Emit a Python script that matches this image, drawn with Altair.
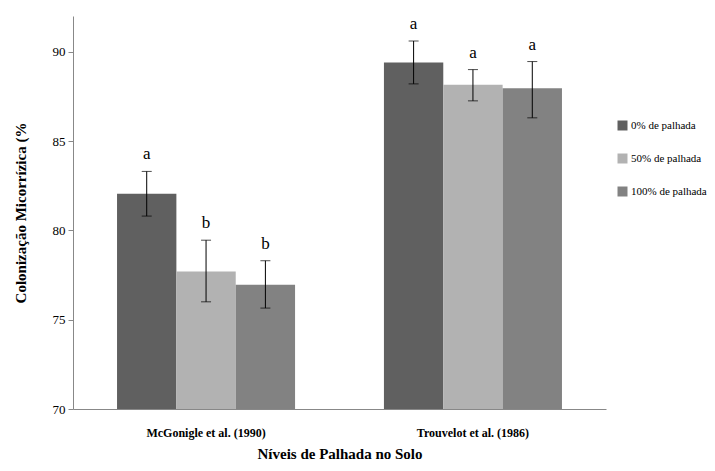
import altair as alt
import pandas as pd

studies = ["McGonigle et al. (1990)", "Trouvelot et al. (1986)"]
levels = ["0% de palhada", "50% de palhada", "100% de palhada"]
colors = ["#606060", "#b2b2b2", "#828282"]

means_mcg = [82.05, 77.7, 76.95]
hi_mcg = [83.3, 79.45, 78.3]
lo_mcg = [80.8, 76.0, 75.65]
letters_mcg = ["a", "b", "b"]

means_tro = [89.4, 88.15, 87.95]
hi_tro = [90.6, 89.0, 89.45]
lo_tro = [88.2, 87.25, 86.3]
letters_tro = ["a", "a", "a"]

rows = []
for s, m, h, l, t in [(studies[0], means_mcg, hi_mcg, lo_mcg, letters_mcg),
                      (studies[1], means_tro, hi_tro, lo_tro, letters_tro)]:
    for i, lev in enumerate(levels):
        rows.append({"study": s, "level": lev, "mean": m[i], "hi": h[i], "lo": l[i], "letter": t[i]})
df = pd.DataFrame(rows)

FONT = "Liberation Serif"

x = alt.X("study:N", sort=studies,
          scale=alt.Scale(paddingInner=0.333, paddingOuter=0.165),
          axis=alt.Axis(title="Níveis de Palhada no Solo", labelAngle=0, ticks=False,
                        labelFont=FONT, labelFontWeight="bold", labelFontSize=12, labelColor="black",
                        labelPadding=18, titleFont=FONT, titleFontSize=15, titleFontWeight="bold",
                        titleColor="black", titlePadding=8, domainColor="#888888"))
xo = alt.XOffset("level:N", sort=levels, scale=alt.Scale(paddingInner=0, paddingOuter=0))
yscale = alt.Scale(domain=[70, 92], nice=False)

base = alt.Chart(df)

bars = base.mark_bar().encode(
    x=x, xOffset=xo,
    y=alt.Y("mean:Q", scale=yscale,
            axis=alt.Axis(title="Colonização Micorrízica (%", values=[70, 75, 80, 85, 90], grid=False,
                          labelFont=FONT, labelFontSize=13, labelColor="black", tickSize=5,
                          tickColor="#888888", domainColor="#888888", labelPadding=3,
                          titleFont=FONT, titleFontSize=15, titleFontWeight="bold",
                          titleColor="black", titlePadding=24)),
    y2=alt.datum(70),
    color=alt.Color("level:N", sort=levels, scale=alt.Scale(domain=levels, range=colors),
                    legend=alt.Legend(title=None, orient="none", legendX=544, legendY=104,
                                      symbolType="square", symbolSize=100, symbolStrokeWidth=0,
                                      labelFont=FONT, labelFontSize=11, labelColor="black",
                                      rowPadding=21, labelOffset=3, labelLimit=120, padding=0)),
)

rules = base.mark_rule(color="black", strokeWidth=1).encode(
    x=x, xOffset=xo, y=alt.Y("lo:Q", scale=yscale), y2="hi:Q")

caps_hi = base.mark_tick(color="black", thickness=1, size=10, orient="horizontal").encode(
    x=x, xOffset=xo, y=alt.Y("hi:Q", scale=yscale))
caps_lo = base.mark_tick(color="black", thickness=1, size=10, orient="horizontal").encode(
    x=x, xOffset=xo, y=alt.Y("lo:Q", scale=yscale))

text = base.mark_text(font=FONT, fontSize=17, color="black", baseline="alphabetic", dy=-12).encode(
    x=x, xOffset=xo, y=alt.Y("hi:Q", scale=yscale), text="letter:N")

chart = alt.layer(bars, rules, caps_hi, caps_lo, text).properties(
    width=533, height=393, padding={"left": 5, "top": 7, "right": 0, "bottom": 0}
).configure_view(stroke=None)

chart.save("out.html", embed_options={"renderer": "svg", "actions": False})
